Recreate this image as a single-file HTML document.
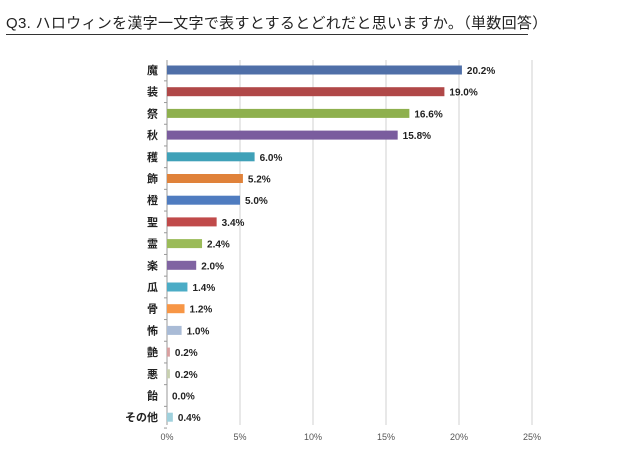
<!DOCTYPE html>
<html><head><meta charset="utf-8"><style>
body{margin:0;background:#fff;width:640px;height:452px;overflow:hidden;font-family:"Liberation Sans","Noto Sans CJK JP",sans-serif}
#title{position:absolute;left:6px;top:12px;font-size:15px;color:#222;border-bottom:1.5px solid #333;padding-bottom:1px;width:522px;white-space:nowrap;letter-spacing:0.3px}
</style></head><body>
<div id="title">Q3. ハロウィンを漢字一文字で表すとするとどれだと思いますか。（単数回答）</div>
<svg id="chart" width="640" height="452" style="position:absolute;left:0;top:0"></svg>
<script>
const categories=["魔","装","祭","秋","穫","飾","橙","聖","霊","楽","瓜","骨","怖","艶","悪","飴","その他"];
const values=[20.2,19.0,16.6,15.8,6.0,5.2,5.0,3.4,2.4,2.0,1.4,1.2,1.0,0.2,0.2,0.0,0.4];
const colors=["#4F6FA8","#B04848","#8EB04E","#7A5C9E","#3FA1B8","#E0823A","#4F7CC0","#C04A4A","#9BBB59","#8064A2","#4BACC6","#F79646","#A9BBD6","#D9A0A0","#C8D0B0","#C0B8D0","#9FD0DC"];
const ticks=[0,5,10,15,20,25];
const x0=167,x1=532,maxV=25,top0=70,step=21.7,bh=9;
const xs=v=>x0+(x1-x0)*v/maxV, ys=i=>top0+i*step;
const svg=document.getElementById('chart'),NS="http://www.w3.org/2000/svg";
function mk(t,a){const e=document.createElementNS(NS,t);for(const k in a)e.setAttribute(k,a[k]);svg.appendChild(e);return e;}
ticks.forEach(t=>{
 const g=mk('line',{x1:xs(t),x2:xs(t),y1:60,y2:425,stroke:t?'#d0d0d0':'#999','stroke-width':1});
 
 
 const l=mk('text',{x:xs(t),y:440,'font-size':9,'text-anchor':'middle',fill:'#555'});
 l.textContent=t+'%';
 
 
});
categories.forEach((c,i)=>{
 const y=ys(i);
 const r=mk('rect',{x:x0,y:y-bh/2,width:xs(values[i])-x0,height:bh,fill:colors[i]});
 
 
 const t=mk('text',{x:158,y:y+4,'font-size':11,'font-weight':'bold','text-anchor':'end',fill:'#222'});
 t.textContent=c;
 
 
 const v=mk('text',{x:xs(values[i])+5,y:y+4,'font-size':10,'font-weight':'bold',fill:'#222'});
 v.textContent=values[i].toFixed(1)+'%';
 
 
 const tk=mk('line',{x1:x0-3,x2:x0,y1:y+step/2,y2:y+step/2,stroke:'#999'});
 
 
});
</script>
</body></html>
